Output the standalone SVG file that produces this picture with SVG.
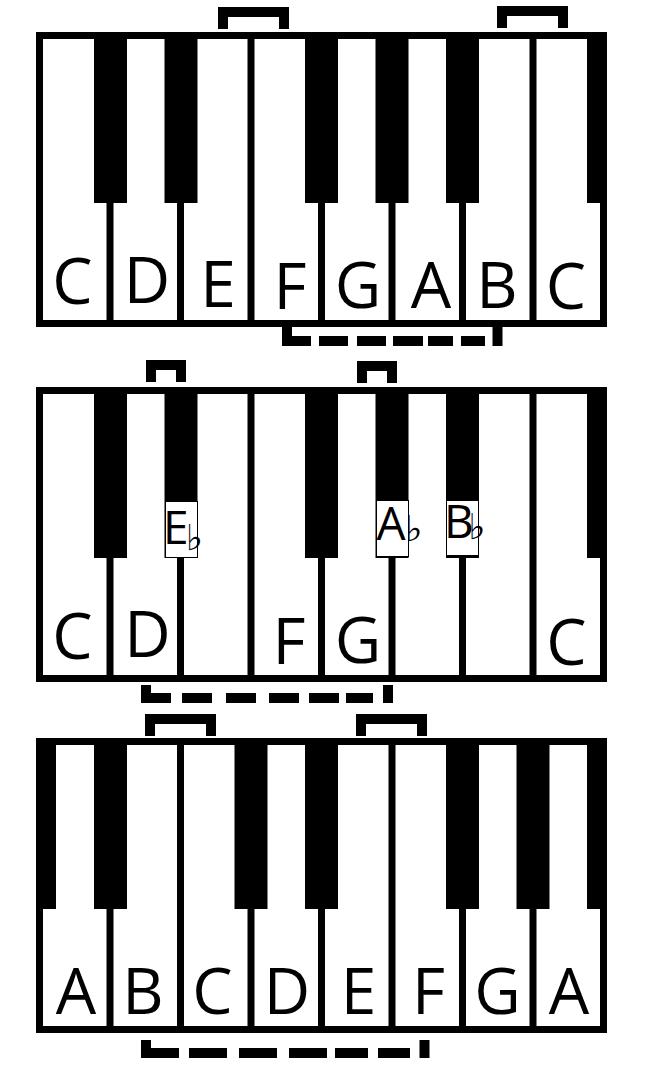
<svg xmlns="http://www.w3.org/2000/svg" width="650" height="1070" viewBox="0 0 650 1070">
<style>
.frame{fill:none;stroke:#000;stroke-width:7}
.div{stroke:#000;stroke-width:7}
.blk{fill:#000}
.lbl{font-family:"Open Sans","Noto Sans",sans-serif;font-size:64px;fill:#000;text-anchor:middle}
.fl{font-family:"Open Sans","Noto Sans",sans-serif;font-size:46px;fill:#000}
.flat{font-family:"DejaVu Sans",sans-serif;font-size:36px;fill:#000}
.box{fill:#fff;stroke:#000;stroke-width:1}
.br{fill:none;stroke:#000;stroke-width:10;stroke-linejoin:miter;stroke-linecap:butt}
</style>
<rect width="650" height="1070" fill="#fff"/>

<g id="keyboard-c-major">
<rect class="frame" x="39.5" y="35.5" width="564" height="288"/>
<path class="div" d="M110,39V320M180.5,39V320M251,39V320M321.5,39V320M392,39V320M462.5,39V320M533,39V320"/>
<rect class="blk" x="94" y="32" width="33" height="171"/>
<rect class="blk" x="164.5" y="32" width="33" height="171"/>
<rect class="blk" x="305" y="32" width="33" height="171"/>
<rect class="blk" x="375.5" y="32" width="33" height="171"/>
<rect class="blk" x="446" y="32" width="33" height="171"/>
<rect class="blk" x="587" y="32" width="20" height="171"/>
<text class="lbl" x="72.5" y="304">C</text>
<text class="lbl" x="147" y="303">D</text>
<text class="lbl" x="218" y="307">E</text>
<text class="lbl" x="290" y="309">F</text>
<text class="lbl" x="358" y="308">G</text>
<text class="lbl" x="431" y="308">A</text>
<text class="lbl" x="497" y="308">B</text>
<text class="lbl" x="566" y="309">C</text>
</g>

<g id="keyboard-c-minor">
<rect class="frame" x="39.5" y="390.5" width="564" height="288"/>
<path class="div" d="M110,394V675M180.5,394V675M251,394V675M321.5,394V675M392,394V675M462.5,394V675M533,394V675"/>
<rect class="blk" x="94" y="387" width="33" height="171"/>
<rect class="blk" x="164.5" y="387" width="33" height="171"/>
<rect class="blk" x="305" y="387" width="33" height="171"/>
<rect class="blk" x="375.5" y="387" width="33" height="171"/>
<rect class="blk" x="446" y="387" width="33" height="171"/>
<rect class="blk" x="587" y="387" width="20" height="171"/>
<text class="lbl" x="72.5" y="659">C</text>
<text class="lbl" x="147.5" y="657">D</text>
<text class="lbl" x="289" y="664">F</text>
<text class="lbl" x="358" y="663">G</text>
<text class="lbl" x="566.5" y="665">C</text>
<g id="label-eb">
<rect class="box" x="165.5" y="501.5" width="32" height="56"/>
<text class="fl" x="163" y="544">E</text>
<text class="flat" x="186" y="550">♭</text>
</g>
<g id="label-ab">
<rect class="box" x="376.5" y="500.5" width="32" height="56"/>
<text class="fl" x="376.5" y="540">A</text>
<text class="flat" x="405.5" y="541">♭</text>
</g>
<g id="label-bb">
<rect class="box" x="446.5" y="500.5" width="32" height="55"/>
<text class="fl" x="444" y="538">B</text>
<text class="flat" x="468.5" y="539">♭</text>
</g>
</g>

<g id="keyboard-a-minor">
<rect class="frame" x="39.5" y="741.5" width="564" height="288"/>
<path class="div" d="M110,745V1026M180.5,745V1026M251,745V1026M321.5,745V1026M392,745V1026M462.5,745V1026M533,745V1026"/>
<rect class="blk" x="36" y="738" width="20" height="171"/>
<rect class="blk" x="94" y="738" width="33" height="171"/>
<rect class="blk" x="234.5" y="738" width="33" height="171"/>
<rect class="blk" x="305" y="738" width="33" height="171"/>
<rect class="blk" x="446" y="738" width="33" height="171"/>
<rect class="blk" x="516.5" y="738" width="33" height="171"/>
<rect class="blk" x="587" y="738" width="20" height="171"/>
<text class="lbl" x="76" y="1014">A</text>
<text class="lbl" x="143" y="1014">B</text>
<text class="lbl" x="212.5" y="1014">C</text>
<text class="lbl" x="287" y="1014">D</text>
<text class="lbl" x="358.5" y="1014">E</text>
<text class="lbl" x="428.5" y="1014">F</text>
<text class="lbl" x="497.5" y="1014">G</text>
<text class="lbl" x="569" y="1014">A</text>
</g>

<g id="connectors">
<path class="br" d="M223,29V12H284V29"/>
<path class="br" d="M502,28V11H563V28"/>
<path class="br" d="M287,327V341H311M319,341H348M357,341H386M393,341H423M428,341H453M461,341H485M497.5,327V346"/>
<path class="br" d="M151,382V365H181V382"/>
<path class="br" d="M362,383V366H392V383"/>
<path class="br" d="M146,685V698H171M182,698H212M226,698H256M269,698H299M309,698H339M346,698H373M388,685V703"/>
<path class="br" d="M150,736V719H211V736"/>
<path class="br" d="M361,736V719H422V736"/>
<path class="br" d="M146,1040V1053H179M189,1053H227M239,1053H277M289,1053H327M335,1053H368M378,1053H410M424.5,1040V1058"/>
</g>
</svg>
